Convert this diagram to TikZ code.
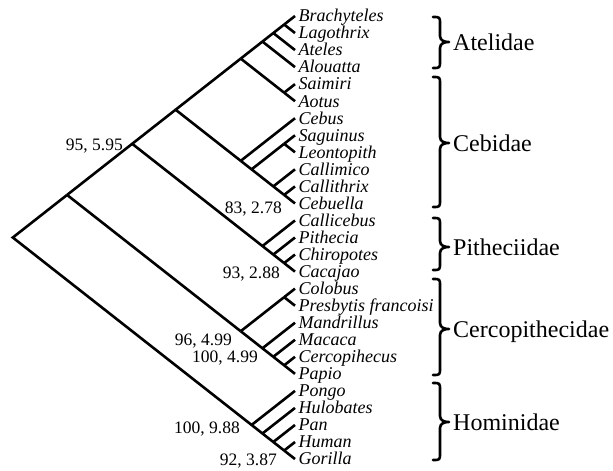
\documentclass[tikz,border=0pt]{standalone}
\usepackage{fontspec}
\setmainfont{Liberation Serif}
\newcommand{\cladept}[3]{\coordinate (#1) at ({295-10.854*(#3-#2)},{-(16+8.52*(#2+#3))});}
\newcommand{\fambrace}[3]{%
  \draw[bracket] (433,-#1) .. controls (440,-#1) .. (440,{-(#1+7)}) -- (440,{-(#2-6)})
    .. controls (440,{-(#2-1)}) and (445,-#2) .. (449,-#2)
    .. controls (445,-#2) and (440,{-(#2+1)}) .. (440,{-(#2+6)}) -- (440,{-(#3-7)})
    .. controls (440,-#3) .. (433,-#3);}
\tikzset{
  branch/.style={line width=2.6pt, line join=miter, line cap=butt},
  taxon/.style={anchor=base west, inner sep=0pt, font=\fontsize{18}{18}\selectfont\itshape},
  support/.style={anchor=base east, inner sep=0pt, font=\fontsize{17.5}{18}\selectfont},
  family/.style={anchor=base west, inner sep=0pt, font=\fontsize{24}{26}\selectfont},
  bracket/.style={line width=2.6pt, line join=round, line cap=round}
}
\begin{document}
\begin{tikzpicture}[x=1pt,y=1pt]
\useasboundingbox (0,0) rectangle (613,-471);
% leaves
\foreach \n [count=\i from 0] in {Brachyteles,Lagothrix,Ateles,Alouatta,Saimiri,Aotus,Cebus,Saguinus,Leontopith,Callimico,Callithrix,Cebuella,Callicebus,Pithecia,Chiropotes,Cacajao,Colobus,Presbytis francoisi,Mandrillus,Macaca,Cercopihecus,Papio,Pongo,Hulobates,Pan,Human,Gorilla}{
  \coordinate (L\i) at (295,{-(16+17.04*\i)});
  \node[taxon] (t\i) at (298.5,{-(16+17.04*\i+5.8)}) {\n};
}
% internal nodes
\cladept{root}{0}{26}
\cladept{A}{0}{21}
\cladept{Hom}{22}{26}
\cladept{B}{0}{15}
\cladept{Cer}{16}{21}
\cladept{C}{0}{11}
\cladept{Pit}{12}{15}
\cladept{D}{0}{5}
\cladept{Ceb}{6}{11}
\cladept{Ate}{0}{3}
\cladept{SA}{4}{5}
\cladept{a02}{0}{2}
\cladept{a01}{0}{1}
\cladept{c711}{7}{11}
\cladept{c78}{7}{8}
\cladept{c911}{9}{11}
\cladept{c1011}{10}{11}
\cladept{p1315}{13}{15}
\cladept{p1415}{14}{15}
\cladept{k1617}{16}{17}
\cladept{k1821}{18}{21}
\cladept{k1921}{19}{21}
\cladept{k2021}{20}{21}
\cladept{h2326}{23}{26}
\cladept{h2426}{24}{26}
\cladept{h2526}{25}{26}
% branches
\draw[branch] (A) -- (root) -- (Hom);
\draw[branch] (A) -- (B); \draw[branch] (A) -- (Cer);
\draw[branch] (B) -- (C); \draw[branch] (B) -- (Pit);
\draw[branch] (C) -- (D); \draw[branch] (C) -- (Ceb);
\draw[branch] (D) -- (Ate); \draw[branch] (D) -- (SA);
\draw[branch] (Ate) -- (a02); \draw[branch] (Ate) -- (L3);
\draw[branch] (a02) -- (a01); \draw[branch] (a02) -- (L2);
\draw[branch] (a01) -- (L0); \draw[branch] (a01) -- (L1);
\draw[branch] (SA) -- (L4); \draw[branch] (SA) -- (L5);
\draw[branch] (Ceb) -- (L6); \draw[branch] (Ceb) -- (c711);
\draw[branch] (c711) -- (c78); \draw[branch] (c711) -- (c911);
\draw[branch] (c78) -- (L7); \draw[branch] (c78) -- (L8);
\draw[branch] (c911) -- (L9); \draw[branch] (c911) -- (c1011);
\draw[branch] (c1011) -- (L10); \draw[branch] (c1011) -- (L11);
\draw[branch] (Pit) -- (L12); \draw[branch] (Pit) -- (p1315);
\draw[branch] (p1315) -- (L13); \draw[branch] (p1315) -- (p1415);
\draw[branch] (p1415) -- (L14); \draw[branch] (p1415) -- (L15);
\draw[branch] (Cer) -- (k1617); \draw[branch] (Cer) -- (k1821);
\draw[branch] (k1617) -- (L16); \draw[branch] (k1617) -- (L17);
\draw[branch] (k1821) -- (L18); \draw[branch] (k1821) -- (k1921);
\draw[branch] (k1921) -- (L19); \draw[branch] (k1921) -- (k2021);
\draw[branch] (k2021) -- (L20); \draw[branch] (k2021) -- (L21);
\draw[branch] (Hom) -- (L22); \draw[branch] (Hom) -- (h2326);
\draw[branch] (h2326) -- (L23); \draw[branch] (h2326) -- (h2426);
\draw[branch] (h2426) -- (L24); \draw[branch] (h2426) -- (h2526);
\draw[branch] (h2526) -- (L25); \draw[branch] (h2526) -- (L26);
% support values
\node[support] (s1) at (123,-150) {95, 5.95};
\node[support] (s2) at (282,-213) {83, 2.78};
\node[support] (s3) at (280,-278.5) {93, 2.88};
\node[support] (s4) at (232,-345) {96, 4.99};
\node[support] (s5) at (258,-362.7) {100, 4.99};
\node[support] (s6) at (240,-433) {100, 9.88};
\node[support] (s7) at (277,-465) {92, 3.87};
% families
\fambrace{17}{42}{68}
\fambrace{77}{143}{207}
\fambrace{218}{247}{270}
\fambrace{279}{329}{375}
\fambrace{383}{422}{460}
\node[family] (f1) at (453,-50) {Atelidae};
\node[family] (f2) at (453,-151) {Cebidae};
\node[family] (f3) at (453,-255) {Pitheciidae};
\node[family] (f4) at (453,-337) {Cercopithecidae};
\node[family] (f5) at (453,-430) {Hominidae};
\end{tikzpicture}
\end{document}
